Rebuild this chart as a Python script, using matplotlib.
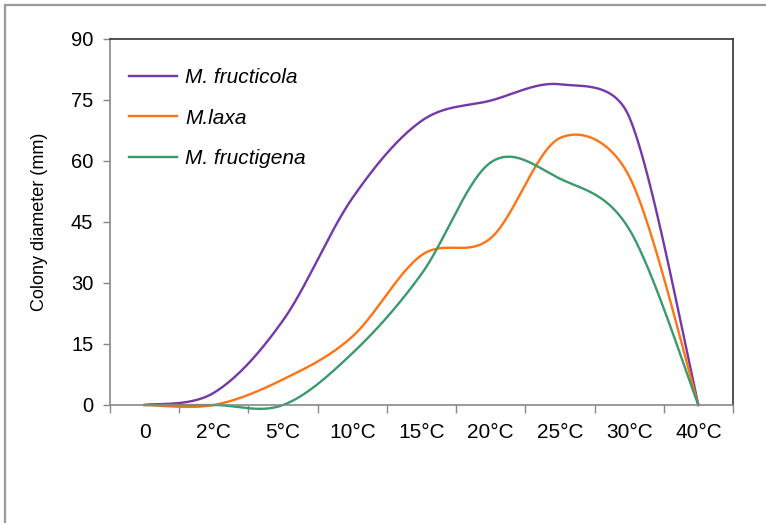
import numpy as np
import matplotlib
matplotlib.use("Agg")
import matplotlib.pyplot as plt
from matplotlib.patches import Rectangle
from matplotlib.ticker import FixedLocator

plt.rcParams['font.family'] = ['Liberation Sans', 'DejaVu Sans']

temps = ['0', '2°C', '5°C', '10°C', '15°C', '20°C', '25°C', '30°C', '40°C']
fructicola = [0, 3, 20.8, 50.8, 69.8, 74.8, 78.8, 70.8, 0]
laxa = [0, 0, 6.3, 16.8, 36.8, 41.0, 65.6, 56.2, 0]
fructigena = [0, 0, 0, 12.7, 32.2, 59.6, 55.6, 43.2, 0]

names = ['M. fructicola', 'M.laxa', 'M. fructigena']
colors = ['#7438A8', '#FF7313', '#3B9A6C']

# screen scale of one category step and one mm, used for the smoothing
SX, SY = 69.2, 4.07


def smooth(vals, n=50):
    # Bezier "smoothed line": handles along the neighbour chord, 1/6 of its
    # length, but never longer than half of the segment they belong to
    P = np.column_stack([np.arange(len(vals)) * SX, np.asarray(vals, float) * SY])
    Q = np.vstack([P[:1], P, P[-1:]])
    t = np.linspace(0, 1, n)[:, None]
    pts = []
    for i in range(len(P) - 1):
        p0, p1, p2, p3 = Q[i:i + 4]
        seg = np.hypot(*(p2 - p1))
        h = []
        for a, b in ((p0, p2), (p1, p3)):
            tan = b - a
            L = np.hypot(*tan)
            k = min(1 / 6, seg / 2 / L) if L > 0 else 0
            h.append(tan * k)
        c1, c2 = p1 + h[0], p2 - h[1]
        pts.append((1 - t) ** 3 * p1 + 3 * (1 - t) ** 2 * t * c1
                   + 3 * (1 - t) * t ** 2 * c2 + t ** 3 * p2)
    pts = np.vstack(pts)
    return pts[:, 0] / SX, pts[:, 1] / SY


fig = plt.figure(figsize=(7.66, 5.23), dpi=100)
W, H = 766, 523

# chart area border
fig.patches.append(Rectangle((5 / W, -0.05), 1.1, 1 - 5 / H + 0.05, transform=fig.transFigure,
                             fill=False, edgecolor='#9a9a9a', linewidth=1.6))

ax = fig.add_axes([110 / W, 1 - 405 / H, (733 - 110) / W, (405 - 38.7) / H])

for vals, name, c in zip([fructicola, laxa, fructigena], names, colors):
    x, y = smooth(vals)
    ax.plot(x, y, color=c, linewidth=1.7, label=name, clip_on=False)

ax.set_xlim(-0.5, len(temps) - 0.5)
ax.set_ylim(0, 90)
ax.set_yticks(np.arange(0, 91, 15))
ax.set_xticks(range(len(temps)))
ax.set_xticklabels(temps)
ax.xaxis.set_minor_locator(FixedLocator(np.arange(-0.5, len(temps), 1)))

ax.tick_params(axis='y', length=5, width=1, color='#888888', pad=7, labelsize=14.5)
ax.tick_params(axis='x', which='major', length=0, pad=13, labelsize=15)
ax.tick_params(axis='x', which='minor', length=6, width=1, color='#888888')

for s in ['left', 'bottom']:
    ax.spines[s].set_color('#888888')
    ax.spines[s].set_linewidth(1.2)
for s in ['top', 'right']:
    ax.spines[s].set_color('#333333')
    ax.spines[s].set_linewidth(1.2)

ax.set_ylabel('Colony diameter (mm)', fontsize=13)
ax.yaxis.set_label_coords(-0.1, 0.5)

leg = ax.legend(loc='upper left', frameon=False, handlelength=2.3,
                handletextpad=0.4, labelspacing=1.02, bbox_to_anchor=(0.0, 0.97),
                prop={'style': 'italic', 'size': 15})

fig.savefig('out.png', dpi=100)
